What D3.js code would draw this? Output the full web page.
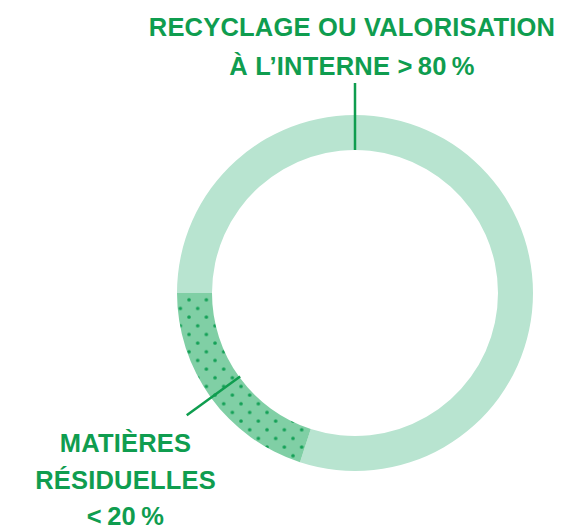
<!DOCTYPE html>
<html>
<head>
<meta charset="utf-8">
<script src="https://cdn.jsdelivr.net/npm/d3@7"></script>
<style>
  body { margin: 0; background: #fff; }
  .label { font-family: "Liberation Sans", Arial, sans-serif; font-weight: bold; font-size: 25.5px; letter-spacing: 0.2px; fill: #0f9d4f; }
</style>
</head>
<body>
<div id="wrapper"></div>
<script>
// data
const categories = ['Recyclage ou valorisation à l\'interne', 'Matières résiduelles'];
const shares = [80, 20];
const topLabel = ['RECYCLAGE OU VALORISATION', 'À L\u2019INTERNE >\u200980\u2009%'];
const bottomLabel = ['MATIÈRES', 'RÉSIDUELLES', '<\u200920\u2009%'];

const dimensions = {
  width: 566,
  height: 529,
  cx: 355,
  cy: 293,
  outer: 178,
  inner: 143,
}

const wrapper = d3.select('#wrapper')
  .append('svg')
  .attr('width', dimensions.width)
  .attr('height', dimensions.height)

// dotted pattern for the small slice
const defs = wrapper.append('defs');
const tile = 17.33;
const pat = defs.append('pattern')
  .attr('id', 'dots')
  .attr('patternUnits', 'userSpaceOnUse')
  .attr('x', 189.3)
  .attr('y', 292.7)
  .attr('width', tile)
  .attr('height', tile);
pat.append('rect')
  .attr('width', tile)
  .attr('height', tile)
  .attr('fill', '#80cfa5');
pat.selectAll('circle')
  .data([[0, 0], [tile, 0], [0, tile], [tile, tile], [tile / 2, tile / 2]])
  .enter()
  .append('circle')
  .attr('cx', d => d[0])
  .attr('cy', d => d[1])
  .attr('r', 1.8)
  .attr('fill', '#13a056');

const pie = d3.pie()
  .sort(null)
  .startAngle(-Math.PI / 2)
  .endAngle(Math.PI * 1.5)
  .value(d => d);

const arc = d3.arc()
  .innerRadius(dimensions.inner)
  .outerRadius(dimensions.outer);

const colorScale = d3.scaleOrdinal()
  .domain(categories)
  .range(['#b8e4d0', 'url(#dots)']);

const bounds = wrapper.append('g')
  .attr('transform', `translate(${dimensions.cx},${dimensions.cy})`);

const arcs = pie(shares);
bounds.selectAll('path')
  .data(arcs)
  .enter()
  .append('path')
  .attr('d', arc)
  .attr('fill', (d, i) => colorScale(categories[i]));

// leader lines
bounds.append('line')
  .attr('x1', 0)
  .attr('y1', -dimensions.outer - 32)
  .attr('x2', 0)
  .attr('y2', -dimensions.inner)
  .attr('stroke', '#0f9d4f')
  .attr('stroke-width', 2.5);

const midB = (arcs[1].startAngle + arcs[1].endAngle) / 2;
const rIn = dimensions.inner - 1, rOut = dimensions.outer + 30;
bounds.append('line')
  .attr('x1', Math.sin(midB) * rIn)
  .attr('y1', -Math.cos(midB) * rIn)
  .attr('x2', Math.sin(midB) * rOut)
  .attr('y2', -Math.cos(midB) * rOut)
  .attr('stroke', '#0f9d4f')
  .attr('stroke-width', 2.5);

// labels
wrapper.append('text')
  .attr('class', 'label')
  .attr('text-anchor', 'middle')
  .selectAll('tspan')
  .data(topLabel)
  .enter()
  .append('tspan')
  .attr('x', 352)
  .attr('y', (d, i) => 36 + i * 38.5)
  .text(d => d);

wrapper.append('text')
  .attr('class', 'label')
  .attr('text-anchor', 'middle')
  .selectAll('tspan')
  .data(bottomLabel)
  .enter()
  .append('tspan')
  .attr('x', 125.5)
  .attr('y', (d, i) => 452 + i * 36.5)
  .text(d => d);
</script>
</body>
</html>
